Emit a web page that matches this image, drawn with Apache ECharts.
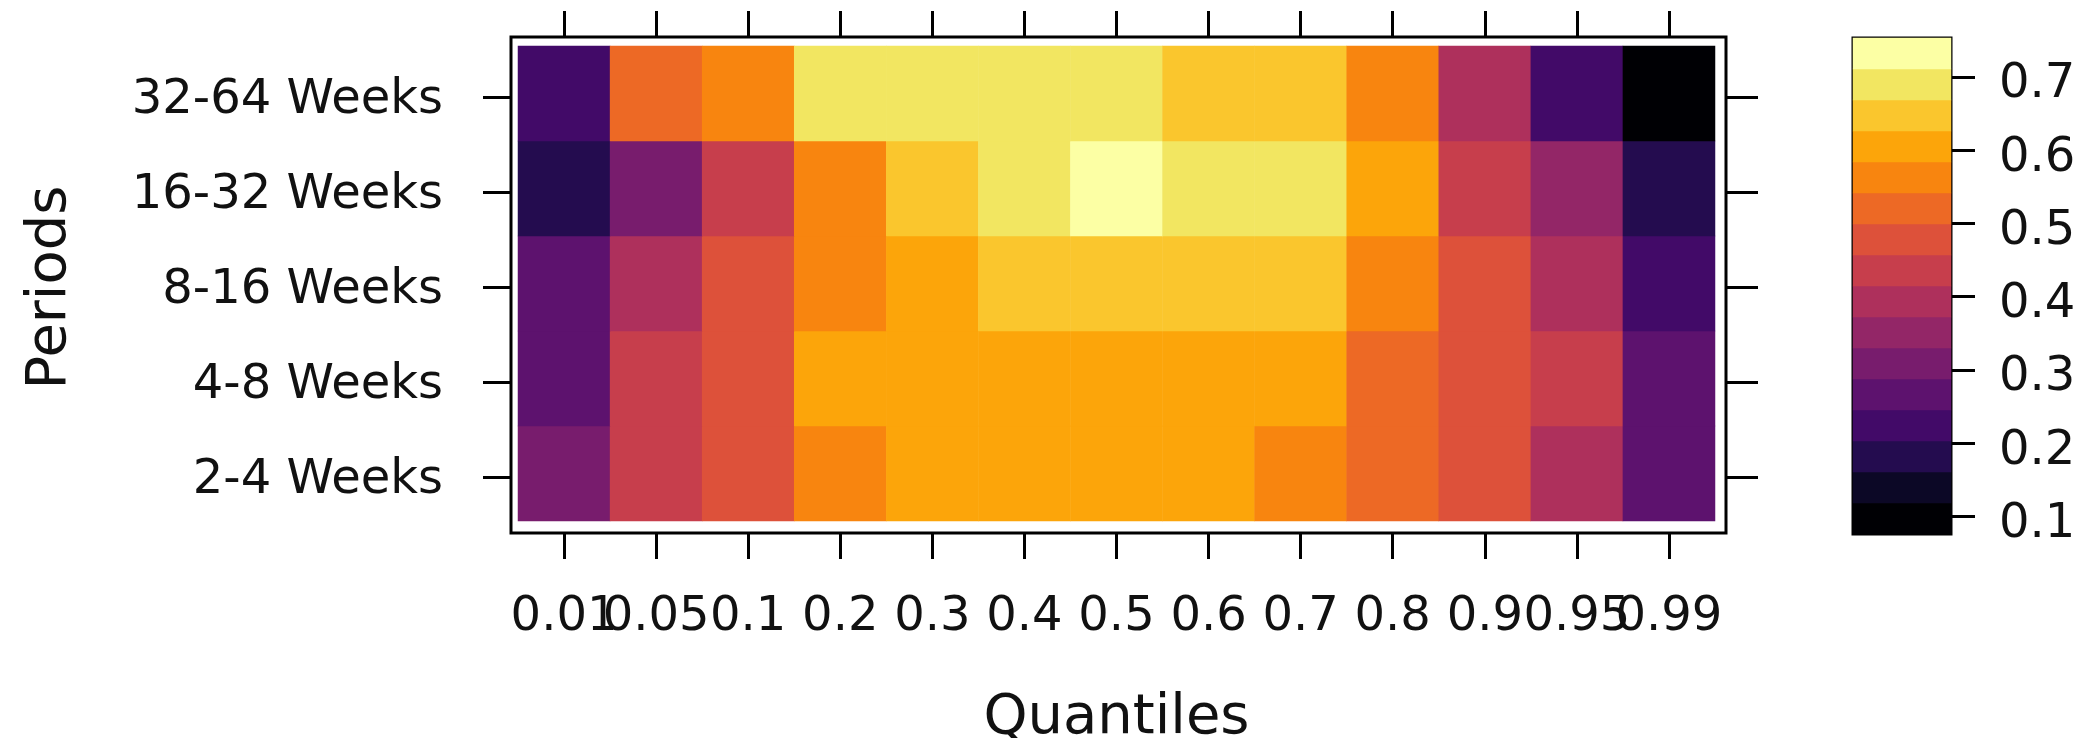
<!DOCTYPE html>
<html>
<head>
<meta charset="utf-8">
<script src="https://cdn.jsdelivr.net/npm/echarts@6/dist/echarts.min.js"></script>
<style>
  html, body { margin: 0; padding: 0; background: #fff; }
  #chart { width: 2094px; height: 738px; }
</style>
</head>
<body>
<div id="chart"></div>
<script>
// categories
const quantiles = ['0.01', '0.05', '0.1', '0.2', '0.3', '0.4', '0.5', '0.6', '0.7', '0.8', '0.9', '0.95', '0.99']
const periods = ['2-4 Weeks', '4-8 Weeks', '8-16 Weeks', '16-32 Weeks', '32-64 Weeks']

// values per period, quantile order as above
const weeks2to4 = [0.31, 0.44, 0.48, 0.56, 0.61, 0.61, 0.61, 0.61, 0.56, 0.52, 0.48, 0.39, 0.27]
const weeks4to8 = [0.27, 0.44, 0.48, 0.61, 0.61, 0.61, 0.61, 0.61, 0.61, 0.52, 0.48, 0.44, 0.27]
const weeks8to16 = [0.27, 0.39, 0.48, 0.56, 0.61, 0.65, 0.65, 0.65, 0.65, 0.56, 0.48, 0.39, 0.22]
const weeks16to32 = [0.18, 0.31, 0.44, 0.56, 0.65, 0.69, 0.73, 0.69, 0.69, 0.61, 0.44, 0.35, 0.18]
const weeks32to64 = [0.22, 0.52, 0.56, 0.69, 0.69, 0.69, 0.69, 0.65, 0.65, 0.56, 0.39, 0.22, 0.10]
const rows = [weeks2to4, weeks4to8, weeks8to16, weeks16to32, weeks32to64]

// colour key: level breaks, band colours (inferno), tick labels
const levels = [0.076, 0.118, 0.161, 0.203, 0.245, 0.288, 0.330, 0.372, 0.415,
  0.457, 0.499, 0.542, 0.584, 0.626, 0.669, 0.711, 0.753]
const colors = ['#000004', '#0C0826', '#240C4F', '#420A68', '#5D126E', '#781C6D', '#932667', '#AE305C',
  '#C73E4C', '#DD513A', '#ED6925', '#F8850F', '#FCA50A', '#FAC62D', '#F2E661', '#FCFFA4']
const keyTicks = [0.1, 0.2, 0.3, 0.4, 0.5, 0.6, 0.7]

const heatData = []
rows.forEach((row, y) => {
  row.forEach((v, x) => heatData.push([x, y, v]))
})
const keyData = colors.map((c, i) => ({ value: [0, i, levels[i]], itemStyle: { color: c } }))
const pieces = colors.map((c, i) => ({ gte: levels[i], lt: levels[i + 1], color: c }))

const font = 'DejaVu Sans'
const tickStyle = { color: '#000', width: 3 }
const hiddenLine = { show: true, lineStyle: { color: 'rgba(0,0,0,0)' } }

const chart = echarts.init(document.getElementById('chart'))
chart.setOption({
  animation: false,
  backgroundColor: '#fff',
  grid: [
    // heatmap cells
    { left: 518, right: 379, top: 46, bottom: 217, outerBoundsMode: 'none' },
    // frame around the panel
    { left: 511, right: 368, top: 37, bottom: 205, outerBoundsMode: 'none', show: true, borderColor: '#000', borderWidth: 3, backgroundColor: 'transparent' },
    // colour key
    { left: 1853, right: 143, top: 38, bottom: 204, outerBoundsMode: 'none', show: true, borderColor: '#000', borderWidth: 3, backgroundColor: 'transparent' },
    // period ticks, a little lower than the cell centres
    { left: 511, right: 368, top: 50, bottom: 213, outerBoundsMode: 'none' },
    // period labels and axis title
    { left: 511, right: 368, top: 50, bottom: 213, outerBoundsMode: 'none' }
  ],
  xAxis: [
    {
      gridIndex: 0, type: 'category', data: quantiles, position: 'bottom', offset: 12,
      axisLine: hiddenLine,
      axisTick: { show: true, interval: 0, alignWithLabel: true, length: 26, lineStyle: tickStyle },
      axisLabel: { interval: 0, margin: 61, fontFamily: font, fontSize: 48, color: '#111' },
      name: 'Quantiles', nameLocation: 'middle', nameGap: 157,
      nameTextStyle: { fontFamily: font, fontSize: 56, color: '#111' }
    },
    {
      gridIndex: 0, type: 'category', data: quantiles, position: 'top', offset: 9,
      axisLine: hiddenLine,
      axisTick: { show: true, interval: 0, alignWithLabel: true, length: 26, lineStyle: tickStyle },
      axisLabel: { show: false }
    },
    { gridIndex: 1, type: 'value', show: false },
    { gridIndex: 2, type: 'category', data: ['key'], show: false },
    { gridIndex: 3, type: 'category', data: quantiles, show: false },
    { gridIndex: 4, type: 'category', data: quantiles, show: false }
  ],
  yAxis: [
    { gridIndex: 0, type: 'category', data: periods, show: false },
    {
      gridIndex: 3, type: 'category', data: periods, position: 'left',
      axisLine: hiddenLine,
      axisTick: { show: true, interval: 0, alignWithLabel: true, length: 28, lineStyle: tickStyle },
      axisLabel: { show: false }
    },
    {
      gridIndex: 3, type: 'category', data: periods, position: 'right',
      axisLine: hiddenLine,
      axisTick: { show: true, interval: 0, alignWithLabel: true, length: 32, lineStyle: tickStyle },
      axisLabel: { show: false }
    },
    { gridIndex: 1, type: 'value', show: false },
    { gridIndex: 2, type: 'category', data: colors.map((c, i) => String(i)), show: false },
    {
      gridIndex: 2, type: 'value', position: 'right', min: levels[0], max: levels[levels.length - 1],
      splitLine: { show: false },
      axisLine: hiddenLine,
      axisTick: { show: true, length: 24, lineStyle: tickStyle, customValues: keyTicks },
      axisLabel: {
        margin: 48, verticalAlign: 'top', lineHeight: 16,
        fontFamily: font, fontSize: 48, color: '#111', customValues: keyTicks
      }
    },
    {
      gridIndex: 4, type: 'category', data: periods, position: 'left',
      axisLine: { show: false },
      axisTick: { show: false },
      axisLabel: {
        interval: 0, margin: 68, verticalAlign: 'top', lineHeight: 6,
        fontFamily: font, fontSize: 48, color: '#111'
      },
      name: 'Periods', nameLocation: 'middle', nameGap: 433,
      nameTextStyle: { fontFamily: font, fontSize: 56, color: '#111' }
    }
  ],
  visualMap: {
    type: 'piecewise', show: false, seriesIndex: 0, dimension: 2, pieces: pieces
  },
  series: [
    {
      type: 'heatmap', xAxisIndex: 0, yAxisIndex: 0, data: heatData,
      emphasis: { disabled: true }
    },
    {
      type: 'heatmap', xAxisIndex: 3, yAxisIndex: 4, data: keyData,
      emphasis: { disabled: true }
    }
  ]
})
</script>
</body>
</html>
